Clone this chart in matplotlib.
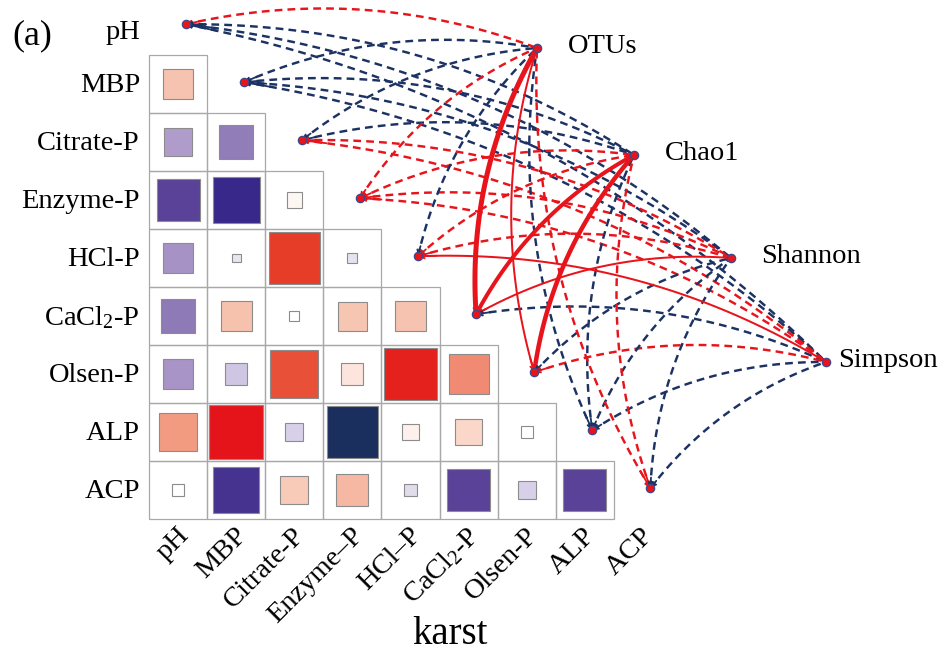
import numpy as np
import matplotlib
matplotlib.use('Agg')
import matplotlib.pyplot as plt
from matplotlib.colors import LinearSegmentedColormap
from matplotlib.patches import Rectangle

plt.rcParams['font.family'] = ['Liberation Serif', 'DejaVu Serif']
plt.rcParams['mathtext.fontset'] = 'custom'
plt.rcParams['mathtext.rm'] = 'Liberation Serif'
plt.rcParams['mathtext.it'] = 'Liberation Serif:italic'

# ---------------- data ----------------
row_labels = ["pH", "MBP", "Citrate-P", "Enzyme-P", "HCl-P", r"CaCl$_\mathrm{2}$-P",
              "Olsen-P", "ALP", "ACP"]
col_labels = ["pH", "MBP", "Citrate-P", "Enzyme\u2013P", "HCl\u2013P", r"CaCl$_\mathrm{2}$-P",
              "Olsen-P", "ALP", "ACP"]
species = ["OTUs", "Chao1", "Shannon", "Simpson"]

# lower-triangle correlations (row i vs columns 0..i-1), rows MBP..ACP
corr_rows = [
    [0.52],
    [-0.48, -0.59],
    [-0.74, -0.81, 0.26],
    [-0.53, -0.15, 0.88, -0.17],
    [-0.60, 0.53, 0.17, 0.50, 0.52],
    [-0.52, -0.38, 0.83, 0.38, 0.90, 0.69],
    [0.66, 0.92, -0.31, -0.88, 0.29, 0.45, 0.21],
    [0.21, -0.78, 0.48, 0.55, -0.22, -0.74, -0.31, -0.74],
]

# Mantel r (signed) and p for env (rows) x species (cols)
mantel_r = [
    [0.10, -0.10, -0.10, -0.10],   # pH
    [-0.10, -0.10, -0.10, -0.10],  # MBP
    [-0.10, -0.10, 0.10, 0.10],    # Citrate-P
    [0.10, 0.10, 0.10, 0.10],      # Enzyme-P
    [-0.10, 0.10, 0.10, 0.25],     # HCl-P
    [0.55, 0.45, 0.25, -0.10],     # CaCl2-P
    [0.25, 0.50, -0.10, 0.10],     # Olsen-P
    [-0.10, -0.10, -0.10, -0.10],  # ALP
    [0.10, 0.10, -0.10, -0.10],    # ACP
]
mantel_p = [
    [0.30, 0.40, 0.50, 0.50],
    [0.40, 0.40, 0.50, 0.50],
    [0.40, 0.40, 0.30, 0.30],
    [0.20, 0.20, 0.20, 0.20],
    [0.40, 0.20, 0.20, 0.03],
    [0.001, 0.004, 0.04, 0.60],
    [0.04, 0.002, 0.50, 0.30],
    [0.50, 0.50, 0.50, 0.50],
    [0.20, 0.20, 0.50, 0.50],
]

# ---------------- layout ----------------
W, H = 948, 653
fig = plt.figure(figsize=(W / 100, H / 100), dpi=100)
ax = fig.add_axes([0, 0, 1, 1])
ax.axis('off')
CW, CH = 58.1, 58.0      # px per cell
X0, Y0 = 149.0, -3.0     # px of grid origin
ax.set_xlim((0 - X0) / CW, (W - X0) / CW)
ax.set_ylim((H - Y0) / CH, (0 - Y0) / CH)

def px(x, y):
    return ((x - X0) / CW, (y - Y0) / CH)

# colormap
neg_nodes = [(-1.0, '#0f2450'), (-0.88, '#1b2f5e'), (-0.81, '#38288a'), (-0.74, '#5a4297'),
             (-0.60, '#8e7ab6'), (-0.53, '#a792c6'), (-0.48, '#b09dcb'), (-0.38, '#cfc6e3'),
             (-0.31, '#d8d0e8'), (-0.15, '#e6e6f0'), (0.0, '#ffffff')]
pos_nodes = [(0.21, '#ffffff'), (0.26, '#fdf8f5'), (0.29, '#fef2ee'), (0.38, '#fde4dc'),
             (0.45, '#fbd7ca'), (0.48, '#f8cab8'), (0.52, '#f6c4b1'), (0.55, '#f6b9a4'),
             (0.66, '#f29c82'), (0.69, '#f08c74'), (0.83, '#e8523a'), (0.88, '#e6402a'),
             (0.90, '#e3261e'), (0.92, '#e5141b'), (1.0, '#d40010')]
cmap = LinearSegmentedColormap.from_list(
    'corr', [((v + 1) / 2, c) for v, c in neg_nodes + pos_nodes])

# heatmap
for i, row in enumerate(corr_rows, start=1):
    for j, r in enumerate(row):
        ax.add_patch(Rectangle((j, i), 1, 1, fill=False, ec='#a8a8a8', lw=0.9, zorder=1))
        s = abs(r)
        ax.add_patch(Rectangle((j + 0.5 - s / 2, i + 0.5 - s / 2), s, s,
                               fc=cmap((r + 1) / 2), ec='#8c8c8c', lw=0.8, zorder=2))

# labels
for i, lab in enumerate(row_labels):
    dy = 0.12 if i == 0 else 0.03
    ax.text(-0.155, i + 0.5 + dy, lab, ha='right', va='center', fontsize=20.5, color='black')
for j, lab in enumerate(col_labels):
    ax.text(j + 0.62, 9.22, lab, ha='right', va='center', rotation=45,
            rotation_mode='anchor', fontsize=20.5)
ax.text(*px(32, 36), '(a)', ha='center', va='center', fontsize=26)
ax.text(*px(450, 634), 'karst', ha='center', va='center', fontsize=28)

# nodes
env_pos = [(i + 0.63, i + 0.47) for i in range(len(row_labels))]
spec_px = [(537, 48), (634, 155), (731, 258), (826, 362)]
spec_pos = [px(x, y) for x, y in spec_px]
spec_lab_dx = [31, 31, 30, 12]

RED = '#e8141c'
NAVY = '#1c3263'

def bez(p0, p1, k=0.15, n=120):
    p0 = np.array(p0); p1 = np.array(p1)
    d = p1 - p0
    L = np.hypot(*d)
    perp = np.array([d[1], -d[0]]) / L   # bulge direction (screen y down)
    c = (p0 + p1) / 2 + k * L * perp
    t = np.linspace(0, 1, n)[:, None]
    return (1 - t) ** 2 * p0 + 2 * t * (1 - t) * c + t ** 2 * p1

for i in range(len(row_labels)):
    for k in range(len(species)):
        r = mantel_r[i][k]; p = mantel_p[i][k]
        pts = bez(env_pos[i], spec_pos[k])
        if p < 0.05:
            col = RED
            lw = (2 + 10 * (abs(r) - 0.25)) * 0.72
            ax.plot(pts[:, 0], pts[:, 1], color=col, lw=lw, solid_capstyle='round', zorder=4)
        else:
            col = RED if r > 0 else NAVY
            lw = 1.75
            ax.plot(pts[:, 0], pts[:, 1], color=col, lw=lw, ls=(0, (3.2, 2.1)),
                    dash_capstyle='butt', zorder=3)
        # small arrow head at env end
        ax.annotate('', xy=pts[0], xytext=pts[5],
                    arrowprops=dict(arrowstyle='->', color=col, lw=1.3,
                                    mutation_scale=8, shrinkA=0, shrinkB=0), zorder=4)

for (x, y) in env_pos + spec_pos:
    ax.plot(x, y, 'o', ms=6, mfc=RED, mec='#3b4a8c', mew=0.9, zorder=6)

for (x, y), lab, dx in zip(spec_pos, species, spec_lab_dx):
    ax.text(x + dx / CW, y - 0.02, lab, ha='left', va='center', fontsize=20.5)

fig.savefig('out.png', dpi=100)
